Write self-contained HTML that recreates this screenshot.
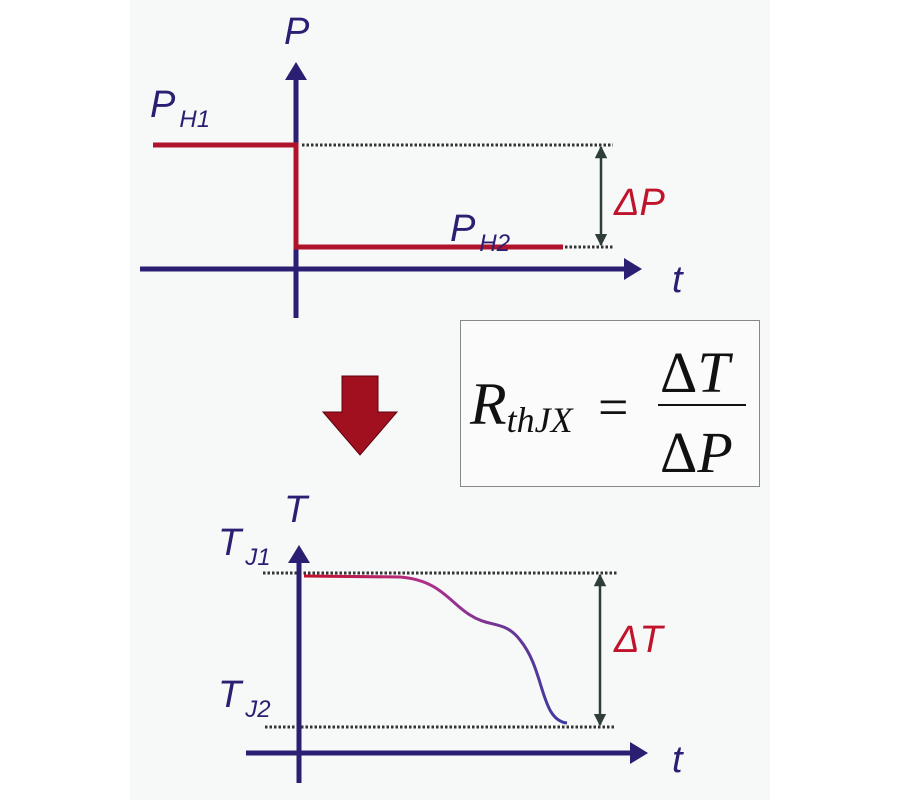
<!DOCTYPE html>
<html><head><meta charset="utf-8"><style>
html,body{margin:0;padding:0;background:#fff;}
svg{display:block;}
text{font-family:"Liberation Sans",sans-serif;font-style:italic;}
</style></head><body>
<svg width="898" height="800" viewBox="0 0 898 800" xmlns="http://www.w3.org/2000/svg">
<defs>
<marker id="ah" viewBox="0 0 10 10" refX="9" refY="5" markerWidth="5" markerHeight="5" orient="auto-start-reverse"><path d="M0,0 L10,5 L0,10z" fill="#2f3f38"/></marker>
<linearGradient id="cg" x1="0" y1="0" x2="1" y2="0"><stop offset="0" stop-color="#c0102a"/><stop offset="0.45" stop-color="#b0308a"/><stop offset="1" stop-color="#3a3aa0"/></linearGradient>
</defs>
<rect x="130" y="0" width="640" height="800" fill="#f7f9f8"/>
<!-- top chart -->
<line x1="140" y1="269" x2="626" y2="269" stroke="#2a1f73" stroke-width="5"/>
<path d="M624,258 L642,269 L624,280z" fill="#2a1f73"/>
<line x1="296" y1="318" x2="296" y2="78" stroke="#2a1f73" stroke-width="5"/>
<path d="M285,80 L296,62 L307,80z" fill="#2a1f73"/>
<polyline points="153,145 296,145 296,247 563,247" fill="none" stroke="#b0142c" stroke-width="5"/>
<line x1="302" y1="145" x2="613" y2="145" stroke="#333" stroke-width="3" stroke-dasharray="2.5,2"/>
<line x1="565" y1="247" x2="613" y2="247" stroke="#333" stroke-width="3" stroke-dasharray="2.5,2"/>
<line x1="601" y1="147" x2="601" y2="245" stroke="#2f3f38" stroke-width="2.5" marker-start="url(#ah)" marker-end="url(#ah)"/>
<text x="284" y="44" font-size="38" fill="#2a1f73">P</text>
<text x="150" y="117" font-size="38" fill="#2a1f73">P<tspan font-size="24" dy="10" dx="4">H1</tspan></text>
<text x="450" y="241" font-size="38" fill="#2a1f73">P<tspan font-size="24" dy="10" dx="4">H2</tspan></text>
<text x="614" y="215" font-size="38" fill="#c0142c">ΔP</text>
<text x="672" y="292" font-size="38" fill="#2a1f73">t</text>
<!-- down arrow -->
<path d="M342,376 L378,376 L378,412 L397,412 L360,455 L323,412 L342,412z" fill="#a0101e" stroke="#600010" stroke-width="1"/>
<!-- formula box -->
<rect x="460.5" y="320.5" width="299" height="166" fill="#fafbfa" stroke="#888" stroke-width="1"/>
<text x="470" y="424" font-size="60" fill="#111" style="font-family:'Liberation Serif',serif">R<tspan font-size="36" dy="8">thJX</tspan></text>
<text x="598" y="425" font-size="54" fill="#111" style="font-family:'Liberation Serif',serif;font-style:normal">=</text>
<text x="660" y="392" font-size="58" fill="#111" style="font-family:'Liberation Serif',serif;font-style:normal">Δ<tspan font-style="italic">T</tspan></text>
<line x1="658" y1="405" x2="746" y2="405" stroke="#111" stroke-width="2"/>
<text x="660" y="472" font-size="58" fill="#111" style="font-family:'Liberation Serif',serif;font-style:normal">Δ<tspan font-style="italic">P</tspan></text>
<!-- bottom chart -->
<line x1="263" y1="573" x2="617" y2="573" stroke="#333" stroke-width="3" stroke-dasharray="2.5,2"/>
<line x1="265" y1="727" x2="615" y2="727" stroke="#333" stroke-width="3" stroke-dasharray="2.5,2"/>
<line x1="246" y1="753" x2="632" y2="753" stroke="#2a1f73" stroke-width="5"/>
<path d="M630,742 L648,753 L630,764z" fill="#2a1f73"/>
<line x1="299" y1="783" x2="299" y2="562" stroke="#2a1f73" stroke-width="5"/>
<path d="M288,563 L299,545 L310,563z" fill="#2a1f73"/>
<path d="M304,576 L400,577 C440,580 450,603 470,615 C490,628 505,620 520,640 C545,670 540,720 567,723" fill="none" stroke="url(#cg)" stroke-width="3"/>
<line x1="600" y1="575" x2="600" y2="725" stroke="#2f3f38" stroke-width="2.5" marker-start="url(#ah)" marker-end="url(#ah)"/>
<text x="284" y="522" font-size="38" fill="#2a1f73">T</text>
<text x="218" y="555" font-size="38" fill="#2a1f73">T<tspan font-size="24" dy="10" dx="4">J1</tspan></text>
<text x="218" y="707" font-size="38" fill="#2a1f73">T<tspan font-size="24" dy="10" dx="4">J2</tspan></text>
<text x="614" y="652" font-size="38" fill="#c0142c">ΔT</text>
<text x="672" y="772" font-size="38" fill="#2a1f73">t</text>
</svg>
</body></html>
